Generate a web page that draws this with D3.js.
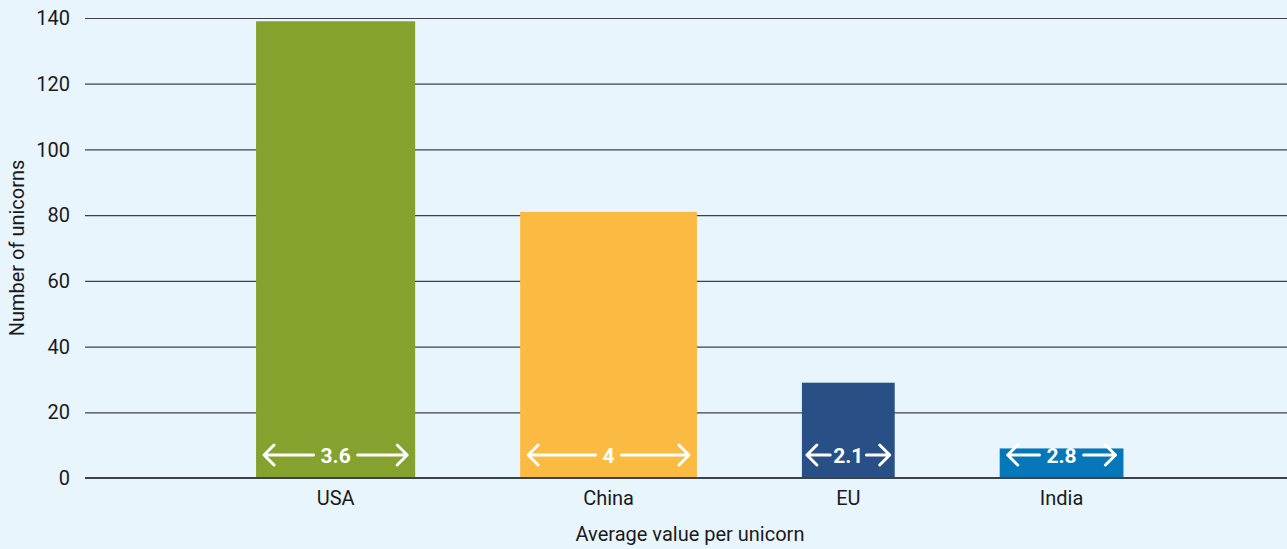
<!DOCTYPE html>
<html>
<head>
<meta charset="utf-8">
<script src="https://cdn.jsdelivr.net/npm/d3@7"></script>
<style>
  body { margin: 0; background: #e9f5fd; }
  svg { display: block; font-family: Roboto, "DejaVu Sans", sans-serif; }
</style>
</head>
<body>
<svg></svg>
<script>
// data
let regions = ['USA', 'China', 'EU', 'India']
let unicorns = [139, 81, 29, 9]
let avgValue = [3.6, 4, 2.1, 2.8]
let colors = ['#84a22d', '#fbbb43', '#284f86', '#0677b8']
let yTicks = [0, 20, 40, 60, 80, 100, 120, 140]

window.addEventListener('DOMContentLoaded', () => {
  let width = 1287
  let height = 549
  let left = 85
  let top = 18
  let bottom = 478

  // bar widths are the average value, gaps are in the same units
  let leftPad = 3.87
  let gap = 2.375
  let rightPad = 3.7

  let starts = []
  let acc = leftPad
  avgValue.forEach((v, i) => {
    starts.push(acc)
    acc += v + (i < avgValue.length - 1 ? gap : 0)
  })
  let total = acc + rightPad

  let x = d3.scaleLinear().domain([0, total]).range([left, width])
  let y = d3.scaleLinear().domain([0, 140]).range([bottom, top])

  let svg = d3.select('svg')
    .attr('width', width)
    .attr('height', height)

  svg.append('rect')
    .attr('width', width)
    .attr('height', height)
    .attr('fill', '#e9f5fd')

  // gridlines
  svg.append('g')
    .selectAll('line')
    .data(yTicks.filter(d => d > 0))
    .enter()
    .append('line')
      .attr('x1', left)
      .attr('x2', width)
      .attr('y1', d => y(d) + 0.5)
      .attr('y2', d => y(d) + 0.5)
      .attr('stroke', '#3c4248')
      .attr('stroke-width', 1.2)

  svg.append('g')
    .selectAll('text')
    .data(yTicks)
    .enter()
    .append('text')
      .attr('x', 70)
      .attr('y', d => y(d))
      .attr('dy', '0.36em')
      .attr('text-anchor', 'end')
      .attr('font-size', 20)
      .attr('fill', '#1a1a1a')
      .text(d => d)

  // bars
  let bars = regions.map((r, i) => ({
    region: r, count: unicorns[i], avg: avgValue[i], color: colors[i], start: starts[i]
  }))

  svg.append('g')
    .selectAll('rect')
    .data(bars)
    .enter()
    .append('rect')
      .attr('x', d => x(d.start))
      .attr('width', d => x(d.start + d.avg) - x(d.start))
      .attr('y', d => y(d.count))
      .attr('height', d => y(0) - y(d.count))
      .attr('fill', d => d.color)

  // zero line
  svg.append('line')
    .attr('x1', left)
    .attr('x2', width)
    .attr('y1', y(0))
    .attr('y2', y(0))
    .attr('stroke', '#3c4248')
    .attr('stroke-width', 2)

  // category labels
  svg.append('g')
    .selectAll('text')
    .data(bars)
    .enter()
    .append('text')
      .attr('x', d => x(d.start + d.avg / 2))
      .attr('y', 505)
      .attr('text-anchor', 'middle')
      .attr('font-size', 20)
      .attr('fill', '#1a1a1a')
      .text(d => d.region)

  // width arrows
  let arrowY = 455
  let arrows = svg.append('g')
  bars.forEach(d => {
    let x0 = x(d.start)
    let x1 = x(d.start + d.avg)
    let cx = (x0 + x1) / 2
    let t = arrows.append('text')
      .attr('x', cx)
      .attr('y', arrowY)
      .attr('dy', '0.36em')
      .attr('text-anchor', 'middle')
      .attr('font-size', 21)
      .attr('font-weight', 'bold')
      .attr('fill', '#fff')
      .text(d.avg)
    let tw = t.node().getComputedTextLength()
    let pad = d.avg < 2.5 ? 3 : 7
    let inset = d.avg < 2.5 ? 5 : 8
    let lx0 = x0 + inset
    let lx1 = cx - tw / 2 - pad
    let rx0 = cx + tw / 2 + pad
    let rx1 = x1 - inset
    let head = 10
    let path = d3.path()
    path.moveTo(lx1, arrowY); path.lineTo(lx0, arrowY)
    path.moveTo(lx0 + head, arrowY - head); path.lineTo(lx0, arrowY); path.lineTo(lx0 + head, arrowY + head)
    path.moveTo(rx0, arrowY); path.lineTo(rx1, arrowY)
    path.moveTo(rx1 - head, arrowY - head); path.lineTo(rx1, arrowY); path.lineTo(rx1 - head, arrowY + head)
    arrows.append('path')
      .attr('d', path.toString())
      .attr('fill', 'none')
      .attr('stroke', '#fff')
      .attr('stroke-width', 3)
      .attr('stroke-linecap', 'round')
      .attr('stroke-linejoin', 'round')
  })

  // axis titles
  svg.append('text')
    .attr('transform', `translate(24, ${(top + bottom) / 2}) rotate(-90)`)
    .attr('text-anchor', 'middle')
    .attr('font-size', 20)
    .attr('fill', '#1a1a1a')
    .text('Number of unicorns')

  svg.append('text')
    .attr('x', 690)
    .attr('y', 541)
    .attr('text-anchor', 'middle')
    .attr('font-size', 20)
    .attr('fill', '#1a1a1a')
    .text('Average value per unicorn')
})
</script>
</body>
</html>
